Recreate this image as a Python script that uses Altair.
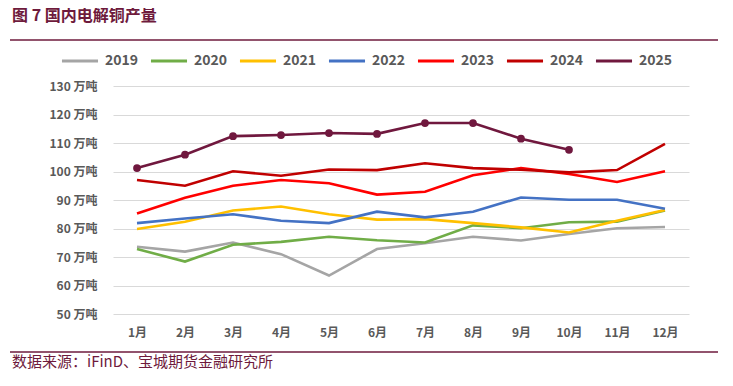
import altair as alt
import pandas as pd

months = ["1月", "2月", "3月", "4月", "5月", "6月", "7月", "8月", "9月", "10月", "11月", "12月"]
years = ["2019", "2020", "2021", "2022", "2023", "2024", "2025"]
colors = ["#A5A5A5", "#70AD47", "#FFC000", "#4472C4", "#FF0000", "#C00000", "#70183E"]

v2019 = [73.6, 71.9, 75.1, 71.0, 63.5, 72.8, 74.8, 77.1, 75.8, 78.1, 80.1, 80.5]
v2020 = [72.8, 68.4, 74.3, 75.3, 77.1, 75.9, 75.1, 81.1, 80.1, 82.2, 82.4, 86.3]
v2021 = [79.8, 82.4, 86.3, 87.7, 85.0, 83.1, 83.3, 81.9, 80.4, 78.6, 82.7, 86.5]
v2022 = [81.9, 83.5, 85.0, 82.7, 81.9, 85.9, 83.9, 85.9, 90.9, 90.1, 90.1, 86.9]
v2023 = [85.3, 90.8, 95.0, 97.0, 95.9, 91.9, 92.9, 98.7, 101.2, 99.1, 96.3, 100.1]
v2024 = [97.0, 95.0, 100.1, 98.5, 100.7, 100.5, 102.9, 101.2, 100.6, 99.7, 100.5, 109.7]
v2025 = [101.2, 105.9, 112.4, 112.8, 113.5, 113.2, 117.0, 117.0, 111.5, 107.6]

series = [v2019, v2020, v2021, v2022, v2023, v2024, v2025]
rows = []
for y, vals in zip(years, series):
    for m, v in zip(months, vals):
        rows.append({"year": y, "month": m, "value": v})
df = pd.DataFrame(rows)
df25 = df[df["year"] == "2025"]

FONT = "Noto Sans CJK SC"
MAROON = "#6E1A3C"

x_enc = alt.X("month:O", sort=months, scale=alt.Scale(type="point", padding=0.5),
              axis=alt.Axis(title=None, labelAngle=0, ticks=False, domain=False, grid=False,
                            labelFont=FONT, labelFontWeight="bold", labelFontSize=12,
                            labelColor="#595959", labelPadding=13))
y_enc = alt.Y("value:Q", scale=alt.Scale(domain=[50, 130], nice=False, zero=False),
              axis=alt.Axis(title=None, values=list(range(50, 131, 10)), ticks=False, domain=False,
                            labelOverlap=False,
                            labelExpr="datum.value + ' 万吨'", gridColor="#D9D9D9", gridWidth=1,
                            labelFont=FONT, labelFontWeight="bold", labelFontSize=12,
                            labelColor="#595959", labelPadding=16))
color_enc = alt.Color("year:N", sort=years, scale=alt.Scale(domain=years, range=colors),
                      legend=alt.Legend(title=None, orient="none", direction="horizontal",
                                        legendX=-53, legendY=-45, symbolType="stroke",
                                        symbolStrokeWidth=3, symbolSize=1300,
                                        labelFont=FONT, labelFontWeight="bold", labelFontSize=14,
                                        labelColor="#595959", columnPadding=5, labelOffset=5))

lines = alt.Chart(df).mark_line(strokeWidth=2.6).encode(x=x_enc, y=y_enc, color=color_enc,
                                                          detail="year:N")
points = alt.Chart(df25).mark_point(filled=True, size=60, opacity=1).encode(
    x=x_enc, y=y_enc, color=color_enc)

title_df = pd.DataFrame({"t": ["图 7  国内电解铜产量"]})
title = alt.Chart(title_df).mark_text(align="left", baseline="middle", font=FONT, fontSize=16,
                                       fontWeight="bold", color=MAROON).encode(
    text="t:N", x=alt.value(-101), y=alt.value(-70))
src_df = pd.DataFrame({"t": ["数据来源：iFinD、宝城期货金融研究所"]})
src = alt.Chart(src_df).mark_text(align="left", baseline="middle", font=FONT, fontSize=15,
                                   color=MAROON).encode(
    text="t:N", x=alt.value(-101), y=alt.value(276))
rule_top = alt.Chart(title_df).mark_rule(color=MAROON, strokeWidth=1.5).encode(
    x=alt.value(-103), x2=alt.value(605), y=alt.value(-46))
rule_bot = alt.Chart(title_df).mark_rule(color=MAROON, strokeWidth=1.5).encode(
    x=alt.value(-103), x2=alt.value(605), y=alt.value(266))

chart = alt.layer(lines, points, title, src, rule_top, rule_bot).properties(
    width=576, height=228,
    background="white",
    autosize=alt.AutoSizeParams(type="none"),
    padding={"left": 105, "top": 78, "right": 36, "bottom": 64},
).configure_view(strokeWidth=0, stroke="transparent")

chart.save("out.html", embed_options={"renderer": "svg", "actions": False})
